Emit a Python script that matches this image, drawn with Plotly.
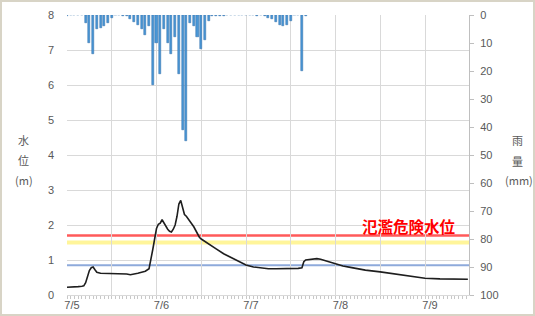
import datetime as dt
import plotly.graph_objects as go

# ---------------- data ----------------
base = dt.datetime(2018, 7, 5, 0, 0)

# hourly rainfall (mm), index = hours since 7/5 00:00
rain_mm = [0.5, 0, 0, 0, 0, 3, 10, 14, 5, 4.5, 4, 3, 1, 0, 0, 0.5, 0.5, 1.5, 2.5, 3.5,
           5, 7, 4, 25, 10, 21, 5, 10, 14, 8, 21, 41, 45, 3, 4, 8, 12, 9, 2, 0.5,
           0.5, 0.5, 0.5, 0, 0, 0, 0, 0, 0, 0, 0, 0.5, 0, 0.5, 1, 1.5, 2.5, 3.5, 4, 3.5,
           2, 0, 0, 20, 0.5]

# water level (m) at hours since 7/5 00:00
level_hours = [0, 1, 2, 3, 4, 4.5, 5, 5.5, 6, 6.5, 7, 7.5, 8, 9, 10, 12, 14, 16, 17, 18,
               19, 20, 21, 22, 22.5, 23, 23.5, 24, 24.5, 25, 25.5, 26, 26.5, 27, 27.5, 28,
               28.5, 29, 29.5, 30, 30.5, 31, 31.5, 32, 33, 34, 35, 35.5, 36, 38, 40, 42,
               44, 46, 48, 50, 52, 54, 56, 58, 60, 62, 63, 63.5, 64, 65, 66, 67, 68, 70,
               72, 74, 76, 78, 80, 84, 88, 92, 96, 100, 104, 107.5]
level_m = [0.22, 0.22, 0.23, 0.24, 0.25, 0.26, 0.35, 0.55, 0.7, 0.78, 0.8, 0.72, 0.65, 0.62,
           0.62, 0.62, 0.61, 0.6, 0.58, 0.59, 0.62, 0.65, 0.68, 0.75, 1.0, 1.3, 1.6, 1.9,
           2.02, 2.05, 2.15, 2.05, 1.95, 1.88, 1.82, 1.8, 1.88, 2.0, 2.25, 2.6, 2.7, 2.5,
           2.3, 2.25, 2.1, 1.95, 1.75, 1.65, 1.6, 1.45, 1.32, 1.18, 1.07, 0.95, 0.86, 0.8,
           0.77, 0.75, 0.75, 0.75, 0.75, 0.76, 0.78, 0.95, 1.0, 1.02, 1.04, 1.04, 1.02,
           0.96, 0.88, 0.83, 0.79, 0.75, 0.71, 0.66, 0.6, 0.54, 0.48, 0.46, 0.45, 0.45]

# reference levels (m)
danger_level = 1.7      # 氾濫危険水位
evac_level = 1.5
standby_level = 0.85
danger_label = "氾濫危険水位"

day_labels = ["7/5", "7/6", "7/7", "7/8", "7/9"]
level_ticks = [0, 1, 2, 3, 4, 5, 6, 7, 8]
rain_ticks = [0, 10, 20, 30, 40, 50, 60, 70, 80, 90, 100]

# ---------------- figure ----------------
rain_x = [base + dt.timedelta(hours=i) for i in range(len(rain_mm))]
level_x = [base + dt.timedelta(hours=h) for h in level_hours]
x_end = base + dt.timedelta(hours=107.8)

fig = go.Figure()

fig.add_trace(go.Scatter(x=level_x, y=level_m, mode="lines",
                         line=dict(color="#1e1e1e", width=1.6), yaxis="y",
                         hoverinfo="skip"))
fig.add_trace(go.Bar(x=rain_x, y=rain_mm, yaxis="y2",
                     width=0.55 * 3600 * 1000,
                     marker=dict(color="#4a97d6", line=dict(color="#2c6aa6", width=0.5))))

# threshold lines
for lvl, col, w in [(evac_level, "#fff59a", 4), (standby_level, "#8eaadb", 1.8),
                    (danger_level, "#ff5a5a", 2.4)]:
    fig.add_shape(type="line", xref="paper", yref="y", x0=0, x1=1, y0=lvl, y1=lvl,
                  line=dict(color=col, width=w), layer="below")

# tick positions every 12 h, labels at days
tickvals = [base + dt.timedelta(hours=12 * i) for i in range(9)]
ticktext = []
for i in range(9):
    ticktext.append(day_labels[i // 2] if i % 2 == 0 else "")

tick_font = dict(family="Liberation Sans, Arial, sans-serif", size=11, color="#595959")
jp_font = "Noto Sans CJK JP"

fig.update_layout(
    width=535, height=316,
    margin=dict(l=67, r=66, t=15, b=21, autoexpand=False),
    paper_bgcolor="white", plot_bgcolor="white",
    showlegend=False, bargap=0,
    xaxis=dict(type="date", range=[base, x_end], tickmode="array", tickvals=tickvals,
               ticktext=ticktext, showgrid=True, gridcolor="#d9d9d9", gridwidth=1,
               showline=True, linecolor="#d9d9d9", ticks="", tickfont=tick_font,
               ticklabelshift=5, zeroline=False, automargin=False,
               minor=dict(dtick=3600 * 1000, ticks="outside", ticklen=3,
                          tickcolor="#c8c8c8", showgrid=False)),
    yaxis=dict(range=[0, 8], tickvals=level_ticks, showgrid=True, gridcolor="#d9d9d9",
               zeroline=False, showline=False, ticks="", tickfont=tick_font,
               ticklabelstandoff=12, automargin=False),
    yaxis2=dict(range=[100, 0], tickvals=rain_ticks, overlaying="y", side="right",
                showgrid=False, zeroline=False, showline=True, linecolor="#bfbfbf",
                ticks="outside", ticklen=4, tickcolor="#bfbfbf", tickfont=tick_font,
                ticklabelstandoff=4, automargin=False),
)

# axis titles (stacked characters)
for txt, xp, yp in [("水", 23, 140), ("位", 23, 160), ("(m)", 24, 180),
                    ("雨", 517, 140), ("量", 517, 161), ("(mm)", 519, 180)]:
    fig.add_annotation(text=txt, xref="paper", yref="paper",
                       x=(xp - 67) / 402, y=1 - (yp - 15) / 280,
                       showarrow=False, xanchor="center", yanchor="middle",
                       font=dict(family=jp_font, size=11, color="#595959"))

fig.add_annotation(text="<b>" + danger_label + "</b>", xref="paper", yref="y",
                   x=(409 - 67) / 402, y=danger_level, yshift=10, showarrow=False,
                   xanchor="center", yanchor="middle",
                   font=dict(family=jp_font, size=15.5, color="#ff0000"))

# outer frame
fig.add_shape(type="rect", xref="paper", yref="paper",
              x0=(1 - 67) / 402, x1=(534 - 67) / 402,
              y0=1 - (315 - 15) / 280, y1=1 - (1 - 15) / 280,
              line=dict(color="#d8d4c6", width=2), layer="below")

fig.write_html("out.html", config={"displayModeBar": False},
               post_script="document.body.style.margin='0px';document.body.style.overflow='hidden';")
